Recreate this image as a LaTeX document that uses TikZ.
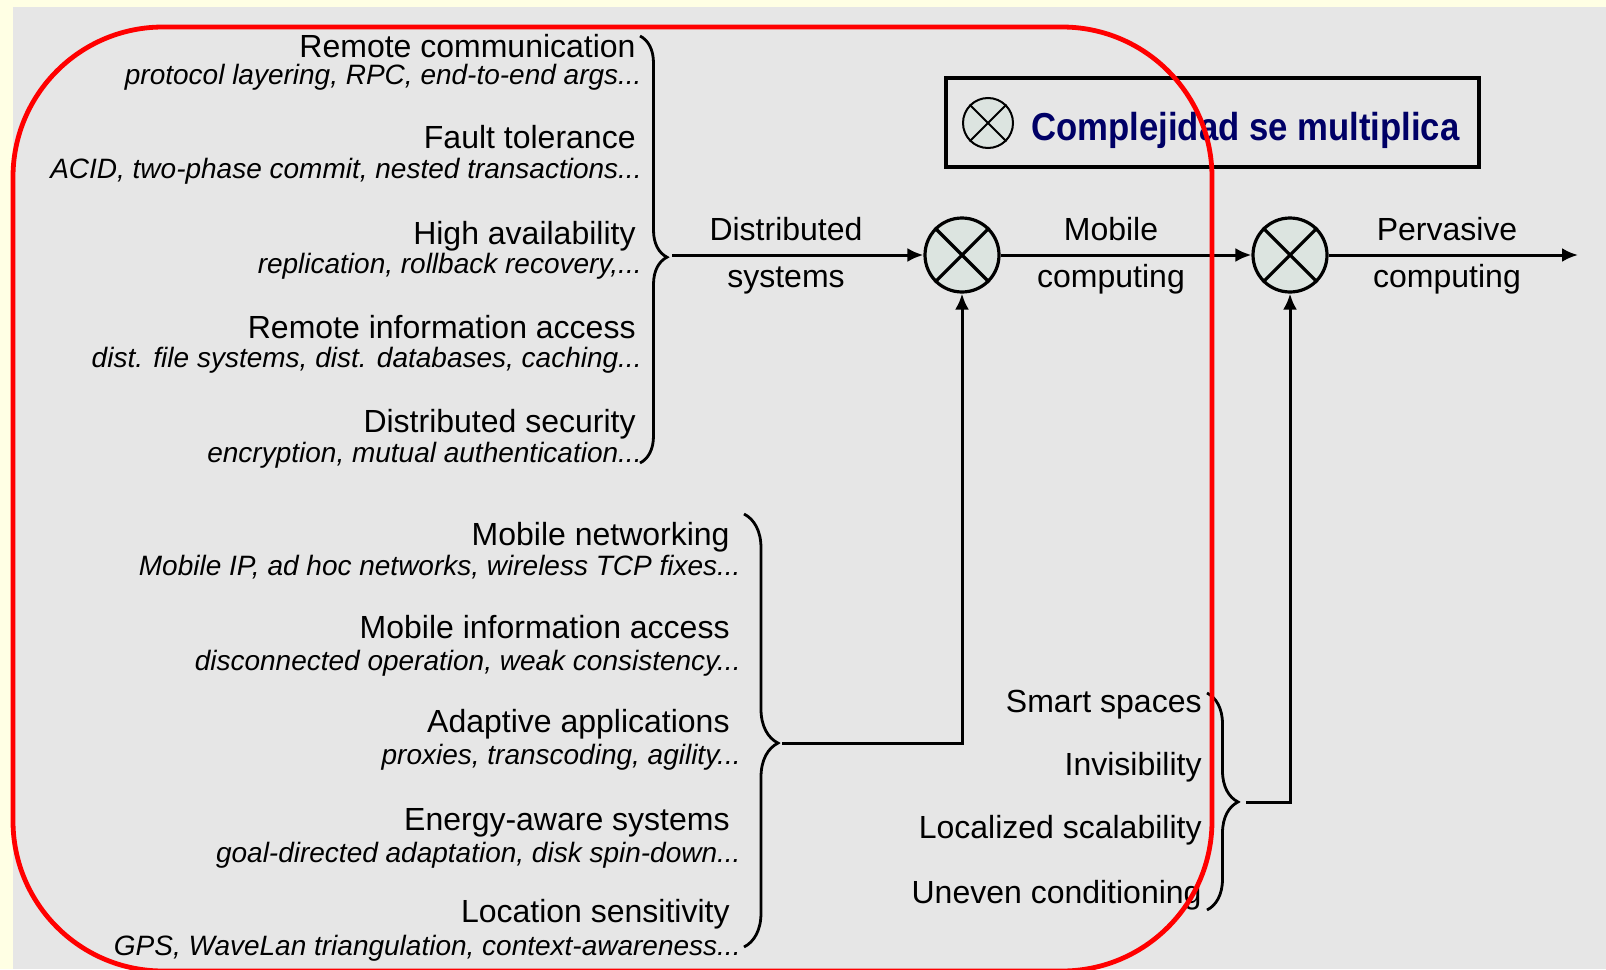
\documentclass[tikz,border=0pt]{standalone}
\usepackage{fontspec}
\setmainfont{Liberation Sans}
\newfontfamily\legendfont[FakeStretch=0.89]{Liberation Sans}
\usetikzlibrary{arrows.meta,decorations.pathreplacing,positioning}
\tikzset{>={Latex[width=7pt,length=8pt]}}

\definecolor{cream}{RGB}{255,255,228}
\definecolor{panel}{RGB}{230,230,230}
\definecolor{mulfill}{RGB}{220,228,224}
\definecolor{navy}{RGB}{0,0,102}

\tikzset{
  item/.style={anchor=base east, inner sep=0pt, font=\fontsize{16}{19}\selectfont},
  detail/.style={anchor=base east, inner sep=0pt, font=\fontsize{14}{17}\selectfont\itshape},
  flow/.style={anchor=base, inner sep=0pt, font=\fontsize{16}{19}\selectfont},
  mul/.style={circle, draw, line width=1.6pt, fill=mulfill, minimum size=37pt, inner sep=0pt},
  grp/.style 2 args={decorate, decoration={brace, amplitude=#1, aspect=#2}, line width=1.4pt},
  link/.style={line width=1.5pt},
}

\begin{document}
\begin{tikzpicture}[x=0.5pt, y=-0.5pt]

  \useasboundingbox (0,0) rectangle (1606,969);
  \clip (0,0) rectangle (1606,969);
  \fill[cream] (0,0) rectangle (1606,969);
  \fill[panel] (13,7) rectangle (1606,969);

  %% distributed systems
  \node[item] (rc) at (636,57) {Remote communication};
  \node[detail] (rcd) at (642,84) {protocol layering, RPC, end-to-end args...};
  \node[item] (ft) at (636,148) {Fault tolerance};
  \node[detail] (ftd) at (642,178) {ACID, two-phase commit, nested transactions...};
  \node[item] (ha) at (636,244) {High availability};
  \node[detail] (had) at (642,273) {replication, rollback recovery,...};
  \node[item] (ri) at (636,338) {Remote information access};
  \node[detail] (rid) at (642,367) {dist. file systems, dist. databases, caching...};
  \node[item] (dsec) at (636,432) {Distributed security};
  \node[detail] (dsecd) at (642,462) {encryption, mutual authentication...};

  \draw[grp={13.5pt}{0.518}] (640,36) -- (640,463);
  \coordinate (b1) at (672,255);

  %% mobile computing
  \node[item] (mn) at (730,545) {Mobile networking};
  \node[detail] (mnd) at (741,575) {Mobile IP, ad hoc networks, wireless TCP fixes...};
  \node[item] (mi) at (730,638) {Mobile information access};
  \node[detail] (mid) at (741,670) {disconnected operation, weak consistency...};
  \node[item] (aa) at (730,732) {Adaptive applications};
  \node[detail] (aad) at (741,764) {proxies, transcoding, agility...};
  \node[item] (ea) at (730,830) {Energy-aware systems};
  \node[detail] (ead) at (741,862) {goal-directed adaptation, disk spin-down...};
  \node[item] (ls) at (730,922) {Location sensitivity};
  \node[detail] (lsd) at (741,955) {GPS, WaveLan triangulation, context-awareness...};

  \draw[grp={17pt}{0.529}] (744,514) -- (744,947);
  \coordinate (b2) at (782,743);

  %% pervasive computing
  \node[item] (ss) at (1202,712) {Smart spaces};
  \node[item] (inv) at (1202,775) {Invisibility};
  \node[item] (lsc) at (1202,838) {Localized scalability};
  \node[item] (uc) at (1202,903) {Uneven conditioning};

  \draw[grp={15.5pt}{0.502}] (1207,693) -- (1207,910);
  \coordinate (b3) at (1246,802);

  %% multipliers
  \node[mul] (m1) at (962,255) {};
  \draw[line width=1.6pt] (m1.north east) -- (m1.south west) (m1.north west) -- (m1.south east);
  \node[mul] (m2) at (1290,255) {};
  \draw[line width=1.6pt] (m2.north east) -- (m2.south west) (m2.north west) -- (m2.south east);
  \coordinate (out) at (1578,255);

  \draw[link,->] (b1) -- (m1.west);
  \draw[link,->] (m1.east) -- (m2.west);
  \draw[link,->] (m2.east) -- (out);
  \draw[link,->] (b2) -- (m1 |- b2) -- (m1);
  \draw[link,->] (b3) -- (m2 |- b3) -- (m2);

  \node[flow] (dl1) at (786,240) {Distributed};
  \node[flow] (dl2) at (786,287) {systems};
  \node[flow] (ml1) at (1111,240) {Mobile};
  \node[flow] (ml2) at (1111,287) {computing};
  \node[flow] (pl1) at (1447,240) {Pervasive};
  \node[flow] (pl2) at (1447,287) {computing};

  %% key
  \node[draw, line width=2pt, minimum width=266.5pt, minimum height=44.5pt, inner sep=0pt]
    (key) at (1212.5,122.5) {};
  \node[mul, minimum size=25pt, line width=1pt] (keymul) at (988,123) {};
  \draw[line width=1pt] (keymul.north east) -- (keymul.south west) (keymul.north west) -- (keymul.south east);
  \node[anchor=base west, inner sep=0pt, text=navy,
    font=\legendfont\bfseries\fontsize{19.5}{23}\selectfont] (keytext) at (1031,140) {Complejidad se multiplica};

  %% red frame on top
  \draw[red, line width=2.4pt, rounded corners=75pt] (13,27) rectangle (1212,971);

\end{tikzpicture}
\end{document}
